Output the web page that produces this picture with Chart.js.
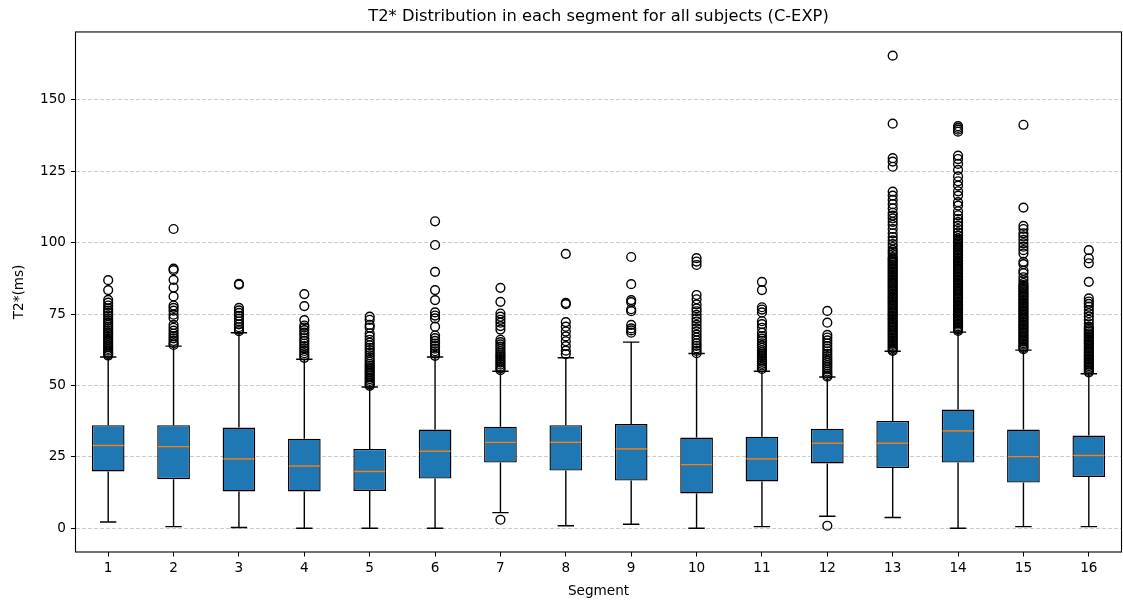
<!DOCTYPE html>
<html>
<head>
<meta charset="utf-8">
<script src="https://cdn.jsdelivr.net/npm/chart.js@4.4.1/dist/chart.umd.min.js"></script>
<style>
  html, body { margin: 0; padding: 0; background: #fff; }
</style>
</head>
<body>
<canvas id="boxChart" width="1123" height="607"></canvas>
<script>
// box statistics per segment
const segments = ['1','2','3','4','5','6','7','8','9','10','11','12','13','14','15','16'];
const q1 =          [19.9, 17.2, 12.9, 12.9, 13.1, 17.4, 23.0, 20.2, 16.7, 12.2, 16.4, 22.7, 21.1, 23.0, 16.0, 18.0];
const medians =     [29.0, 28.6, 24.3, 21.8, 19.9, 27.0, 30.1, 30.1, 27.8, 22.3, 24.3, 29.8, 29.8, 34.1, 25.1, 25.5];
const q3 =          [36.1, 36.1, 35.3, 31.4, 27.8, 34.6, 35.6, 36.1, 36.5, 31.8, 32.1, 34.9, 37.6, 41.6, 34.6, 32.5];
const whiskerLow =  [2.2, 0.6, 0.3, 0.0, 0.0, 0.0, 5.5, 0.9, 1.4, 0.0, 0.6, 4.2, 3.8, 0.0, 0.6, 0.6];
const whiskerHigh = [60.0, 63.8, 68.5, 59.2, 49.5, 60.0, 55.0, 59.7, 65.2, 61.2, 55.0, 53.0, 62.0, 68.7, 62.4, 54.1];
const yTicks = [0, 25, 50, 75, 100, 125, 150];

// outliers (fliers) per segment
const fliers = [
  [86.9, 83.4, 80.0, 79.0, 78.0, 77.0, 76.2, 75.4, 74.5, 73.5, 72.8, 72.0, 71.3, 70.6, 70.0, 69.3, 68.6, 68.0, 67.3, 66.6, 66.0, 65.3, 64.7, 64.0, 63.4, 62.8, 62.2, 61.6, 61.0, 60.5],
  [104.8, 90.9, 90.4, 87.0, 84.3, 81.2, 78.0, 77.2, 76.2, 74.8, 73.6, 71.2, 70.2, 69.2, 68.2, 67.3, 66.5, 65.6, 64.8, 64.2],
  [85.6, 85.3, 77.2, 76.3, 75.4, 74.4, 73.4, 72.4, 71.4, 70.4, 69.6, 69.0],
  [82.0, 77.8, 72.9, 71.0, 70.3, 69.4, 68.5, 67.6, 66.5, 65.6, 64.7, 63.8, 63.0, 62.1, 61.3, 60.5, 59.7],
  [74.1, 73.0, 71.2, 70.3, 68.3, 67.2, 66.0, 65.0, 64.1, 63.2, 62.4, 61.5, 60.6, 59.8, 59.0, 58.3, 57.6, 57.0, 56.4, 55.8, 55.2, 54.6, 54.0, 53.4, 52.8, 52.2, 51.6, 51.0, 50.4, 49.9],
  [107.5, 99.2, 89.8, 83.4, 79.9, 75.6, 74.5, 73.5, 70.6, 67.5, 66.6, 65.6, 64.7, 63.8, 62.9, 62.0, 61.2, 60.4],
  [84.2, 79.3, 75.2, 74.1, 73.0, 72.0, 70.8, 69.6, 66.0, 65.2, 64.4, 63.6, 62.8, 62.0, 61.3, 60.6, 60.0, 59.3, 58.6, 58.0, 57.3, 56.6, 56.0, 55.4, 3.0],
  [96.1, 78.9, 78.5, 72.2, 70.6, 68.9, 67.2, 65.5, 63.8, 62.2, 61.0],
  [95.0, 85.5, 79.9, 79.2, 76.7, 76.0, 71.2, 70.0, 69.3, 68.5],
  [94.6, 93.4, 92.2, 81.7, 80.2, 78.4, 77.0, 76.0, 74.7, 73.5, 72.4, 71.2, 70.0, 68.9, 67.8, 66.8, 65.8, 64.8, 63.9, 63.0, 62.1, 61.3],
  [86.3, 83.4, 77.4, 76.6, 75.6, 72.5, 71.5, 70.2, 68.5, 67.3, 66.4, 65.6, 64.8, 64.0, 63.2, 62.4, 61.7, 61.0, 60.3, 59.6, 58.9, 58.3, 57.6, 57.0, 56.4, 55.8],
  [76.1, 72.0, 67.7, 66.8, 65.8, 64.8, 63.8, 62.9, 62.0, 61.1, 60.3, 59.5, 58.7, 57.9, 57.1, 56.4, 55.6, 54.9, 54.2, 53.6, 53.1, 0.9],
  [165.5, 141.7, 129.6, 128.4, 126.6, 117.9, 116.5, 115.0, 113.5, 112.0, 110.5, 109.5, 108.5, 107.3, 106.2, 104.8, 103.3, 102.0, 100.8, 99.5, 98.5, 97.5, 96.8, 96.0,
   95.0, 94.4, 93.9, 93.3, 92.8, 92.2, 91.7, 91.1, 90.6, 90.0, 89.5, 88.9, 88.4, 87.8, 87.3, 86.7, 86.2, 85.6, 85.1, 84.5, 84.0, 83.4, 82.9, 82.3, 81.8, 81.2,
   80.7, 80.1, 79.6, 79.0, 78.5, 77.9, 77.4, 76.8, 76.3, 75.7, 75.2, 74.6, 74.1, 73.5, 73.0, 72.4, 71.9, 71.3, 70.8, 70.2, 69.7, 69.1, 68.6, 68.0, 67.5, 66.9,
   66.4, 65.8, 65.3, 64.7, 64.2, 63.6, 63.1, 62.5, 62.1],
  [140.8, 140.2, 139.6, 138.9, 130.5, 129.3, 127.6, 125.5, 123.2, 121.5, 120.0, 118.0, 116.5, 114.2, 113.0, 111.0, 109.6, 108.3, 107.2, 106.0, 104.8, 103.6, 102.5, 101.5,
   101.0, 100.4, 99.9, 99.3, 98.8, 98.2, 97.7, 97.1, 96.6, 96.0, 95.5, 94.9, 94.4, 93.8, 93.3, 92.7, 92.2, 91.6, 91.1, 90.5, 90.0, 89.4, 88.9, 88.3, 87.8, 87.2,
   86.7, 86.1, 85.6, 85.0, 84.5, 83.9, 83.4, 82.8, 82.3, 81.7, 81.2, 80.6, 80.1, 79.5, 79.0, 78.4, 77.9, 77.3, 76.8, 76.2, 75.7, 75.1, 74.6, 74.0, 73.5, 72.9,
   72.4, 71.8, 71.3, 70.7, 70.2, 69.6, 69.1],
  [141.3, 112.3, 105.9, 104.8, 103.3, 102.2, 101.0, 99.8, 98.6, 97.4, 96.2, 93.3, 92.5, 90.2, 89.3, 87.9, 86.9, 85.9,
   85.2, 84.6, 84.1, 83.5, 83.0, 82.4, 81.9, 81.3, 80.8, 80.2, 79.7, 79.1, 78.6, 78.0, 77.5, 76.9, 76.4, 75.8, 75.3, 74.7, 74.2, 73.6, 73.1, 72.5, 72.0, 71.4,
   70.9, 70.3, 69.8, 69.2, 68.7, 68.1, 67.6, 67.0, 66.5, 65.9, 65.4, 64.8, 64.3, 63.7, 63.2, 62.7],
  [97.4, 94.5, 92.8, 86.3, 80.5, 79.4, 78.6, 77.6, 76.4, 75.3, 74.2, 73.0, 71.8, 70.6,
   70.0, 69.4, 68.9, 68.3, 67.8, 67.2, 66.7, 66.1, 65.6, 65.0, 64.5, 63.9, 63.4, 62.8, 62.3, 61.7, 61.2, 60.6, 60.1, 59.5, 59.0, 58.4, 57.9, 57.3, 56.8, 56.2,
   55.7, 55.1, 54.6]
];

const boxRanges = q1.map((v, i) => [v, q3[i]]);
const flierPoints = [];
fliers.forEach((list, i) => {
  list.forEach(v => flierPoints.push({x: segments[i], y: v}));
});

// whiskers, caps, medians and the frame round the plot
const boxParts = {
  id: 'boxParts',
  beforeDatasetsDraw(chart) {
    const ctx = chart.ctx;
    const y = chart.scales.y;
    const bars = chart.getDatasetMeta(0).data;
    ctx.save();
    ctx.strokeStyle = '#000';
    ctx.lineWidth = 1.4;
    bars.forEach((bar, i) => {
      const cap = bar.width / 4;
      const lo = y.getPixelForValue(whiskerLow[i]);
      const hi = y.getPixelForValue(whiskerHigh[i]);
      ctx.beginPath();
      ctx.moveTo(bar.x, lo); ctx.lineTo(bar.x, y.getPixelForValue(q1[i]));
      ctx.moveTo(bar.x, hi); ctx.lineTo(bar.x, y.getPixelForValue(q3[i]));
      ctx.moveTo(bar.x - cap, lo); ctx.lineTo(bar.x + cap, lo);
      ctx.moveTo(bar.x - cap, hi); ctx.lineTo(bar.x + cap, hi);
      ctx.stroke();
    });
    ctx.restore();
  },
  afterDatasetsDraw(chart) {
    const ctx = chart.ctx;
    const y = chart.scales.y;
    const bars = chart.getDatasetMeta(0).data;
    ctx.save();
    ctx.strokeStyle = '#ff7f0e';
    ctx.lineWidth = 1.4;
    bars.forEach((bar, i) => {
      const m = y.getPixelForValue(medians[i]);
      ctx.beginPath();
      ctx.moveTo(bar.x - bar.width / 2 + 0.7, m);
      ctx.lineTo(bar.x + bar.width / 2 - 0.7, m);
      ctx.stroke();
    });
    ctx.restore();
  },
  afterDraw(chart) {
    const {ctx, chartArea} = chart;
    ctx.save();
    ctx.strokeStyle = '#000';
    ctx.lineWidth = 1.1;
    ctx.strokeRect(chartArea.left, chartArea.top, chartArea.right - chartArea.left, chartArea.bottom - chartArea.top);
    ctx.restore();
  }
};

Chart.defaults.font.family = '"DejaVu Sans", sans-serif';
Chart.defaults.color = '#000';

new Chart(document.getElementById('boxChart'), {
  type: 'bar',
  data: {
    labels: segments,
    datasets: [
      {
        data: boxRanges,
        backgroundColor: '#1f77b4',
        borderColor: '#000',
        borderWidth: 1.4,
        borderSkipped: false,
        barPercentage: 0.5,
        categoryPercentage: 1.0
      },
      {
        type: 'scatter',
        data: flierPoints,
        xAxisID: 'x',
        yAxisID: 'y',
        pointStyle: 'circle',
        pointRadius: 4.4,
        pointHoverRadius: 4.4,
        pointBackgroundColor: 'rgba(0,0,0,0)',
        pointBorderColor: '#000',
        pointBorderWidth: 1.4
      }
    ]
  },
  options: {
    responsive: false,
    animation: false,
    layout: { autoPadding: false, padding: { left: 0, right: 1.5, top: 0, bottom: 0 } },
    plugins: {
      legend: { display: false },
      tooltip: { enabled: false },
      title: {
        display: true,
        fullSize: false,
        text: 'T2* Distribution in each segment for all subjects (C-EXP)',
        font: { size: 16.3, weight: 'normal' },
        color: '#000',
        padding: { top: 7, bottom: 5.4 }
      }
    },
    scales: {
      x: {
        type: 'category',
        offset: true,
        grid: {
          display: true,
          offset: false,
          drawOnChartArea: false,
          drawTicks: true,
          tickLength: 4.5,
          tickColor: '#000',
          tickWidth: 1
        },
        border: { display: false },
        ticks: { font: { size: 13.6 }, padding: 4, maxRotation: 0 },
        title: {
          display: true,
          text: 'Segment',
          font: { size: 13.6 },
          padding: { top: 0, bottom: 7.8 }
        },
        afterFit(scale) { scale.height = 55; }
      },
      y: {
        type: 'linear',
        min: -8.3,
        max: 173.8,
        afterBuildTicks(scale) { scale.ticks = yTicks.map(v => ({value: v})); },
        grid: {
          color: '#cccccc',
          lineWidth: 1,
          drawTicks: true,
          tickLength: 4.5,
          tickColor: '#000',
          tickWidth: 1,
          tickBorderDash: []
        },
        // in Chart.js v4 the grid line dash is read from border.dash
        border: { display: false, dash: [4, 2] },
        ticks: { font: { size: 13.6 }, padding: 5 },
        title: {
          display: true,
          text: 'T2*(ms)',
          font: { size: 13.6 },
          padding: { top: 11, bottom: 0 }
        },
        afterFit(scale) { scale.width = 75.5; }
      }
    }
  },
  plugins: [boxParts]
});
</script>
</body>
</html>
